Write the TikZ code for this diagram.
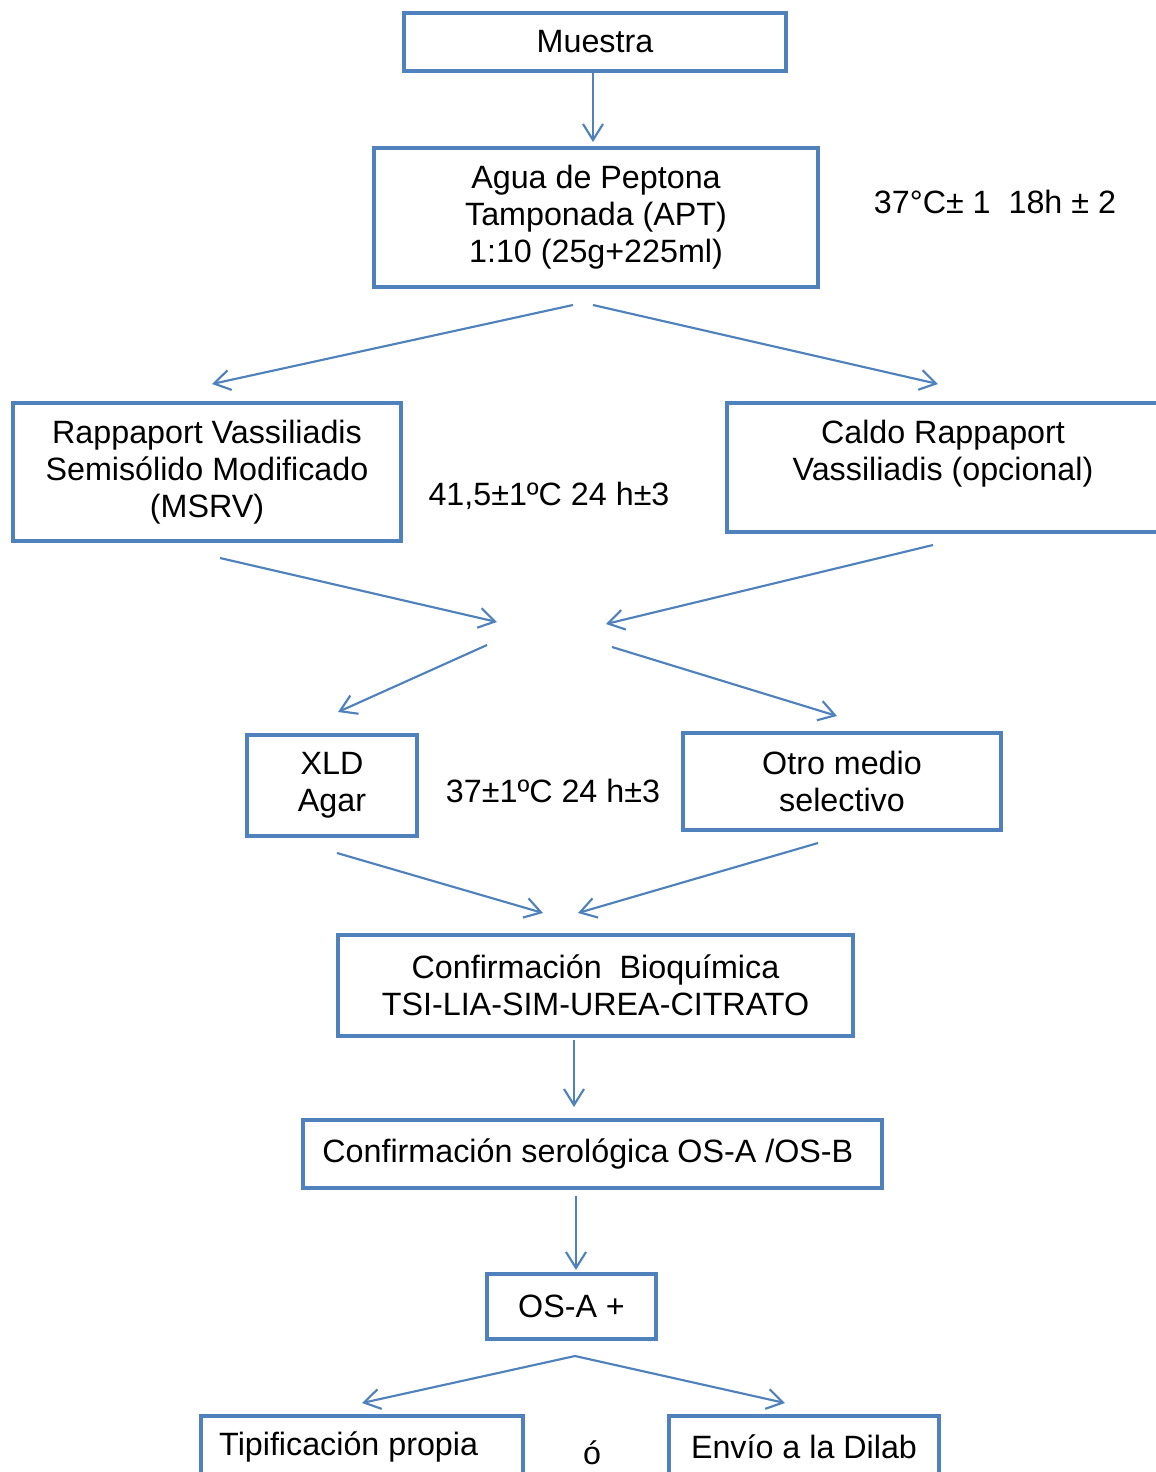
\documentclass[tikz,border=0pt]{standalone}
\usepackage{fontspec}
\setmainfont{Liberation Sans}
\usetikzlibrary{arrows.meta}
\definecolor{boxblue}{HTML}{4F81BD}
\begin{document}
\begin{tikzpicture}[x=0.75pt,y=-0.75pt,
  every node/.style={font=\fontsize{24.2}{27.75}\selectfont, inner sep=0pt},
  bx/.style n args={2}{draw=boxblue, line width=3pt, align=center,
    minimum width=#1*0.75pt, minimum height=#2*0.75pt},
  txt/.style={align=center},
  arr/.style={draw=boxblue, line width=1.6pt,
    -{Straight Barb[length=12pt,width=15pt]}}]
\useasboundingbox (0,0) rectangle (1156,1472);
\clip (0,0) rectangle (1156,1472);
\fill[white] (0,0) rectangle (1156,1472);

% boxes
\node[bx={382}{58}] (muestra) at (595,42) {Muestra};
\node[bx={444}{139}] (apt) at (596,217.5) {Agua de Peptona\\Tamponada (APT)\\1:10 (25g+225ml)};
\node[bx={388}{138}] (msrv) at (207,472) {Rappaport Vassiliadis\\Semisólido Modificado\\(MSRV)};
\node[bx={432}{129}] (caldo) at (943,467.5) {Caldo Rappaport\\Vassiliadis (opcional)\\[-10.5pt]\strut};
\node[bx={170}{101}] (xld) at (332,785.5) {XLD\\Agar};
\node[bx={318}{97}] (otro) at (842,781.5) {Otro medio\\selectivo};
\node[bx={515}{101}] (bioq) at (595.5,985.5) {Confirmación\ \ Bioquímica\\TSI-LIA-SIM-UREA-CITRATO};
\node[bx={579}{68}] (sero) at (592.5,1154) {Confirmación serológica OS-A /OS-B\hspace{7pt}};
\node[bx={169}{65}] (osa) at (571.5,1306.5) {OS-A +};
\node[bx={322}{62}] (tipif) at (362,1447) {Tipificación propia\hspace{20pt}};
\node[bx={270}{62}] (envio) at (804,1447) {Envío a la Dilab};

% condition labels
\node[txt] (c1) at (995,202) {37°C± 1\ \ 18h ± 2};
\node[txt] (c2) at (549,496) {41,5±1ºC 24 h±3};
\node[txt] (c3) at (553,791) {37±1ºC 24 h±3};
\node[txt] (or) at (592,1453) {ó};

% connector end points
\coordinate (a1s) at (593,72);   \coordinate (a1e) at (593,142);
\coordinate (a2s) at (573,305);  \coordinate (a2e) at (212,384);
\coordinate (a3s) at (593,305);  \coordinate (a3e) at (938,384);
\coordinate (a4s) at (220,558);  \coordinate (a4e) at (497,622);
\coordinate (a5s) at (933,545);  \coordinate (a5e) at (606,624);
\coordinate (a6s) at (487,645);  \coordinate (a6e) at (338,712);
\coordinate (a7s) at (612,647);  \coordinate (a7e) at (837,716);
\coordinate (a8s) at (337,853);  \coordinate (a8e) at (543,913);
\coordinate (a9s) at (818,843);  \coordinate (a9e) at (578,913);
\coordinate (b1s) at (574,1040); \coordinate (b1e) at (574,1107);
\coordinate (b2s) at (576,1196); \coordinate (b2e) at (576,1270);
\coordinate (b3s) at (575,1356); \coordinate (b3e) at (362,1403);
\coordinate (b4e) at (785,1403);

% connectors
\draw[arr] (a1s) -- (a1e);
\draw[arr] (a2s) -- (a2e);
\draw[arr] (a3s) -- (a3e);
\draw[arr] (a4s) -- (a4e);
\draw[arr] (a5s) -- (a5e);
\draw[arr] (a6s) -- (a6e);
\draw[arr] (a7s) -- (a7e);
\draw[arr] (a8s) -- (a8e);
\draw[arr] (a9s) -- (a9e);
\draw[arr] (b1s) -- (b1e);
\draw[arr] (b2s) -- (b2e);
\draw[arr] (b3s) -- (b3e);
\draw[arr] (b3s) -- (b4e);
\end{tikzpicture}
\end{document}
